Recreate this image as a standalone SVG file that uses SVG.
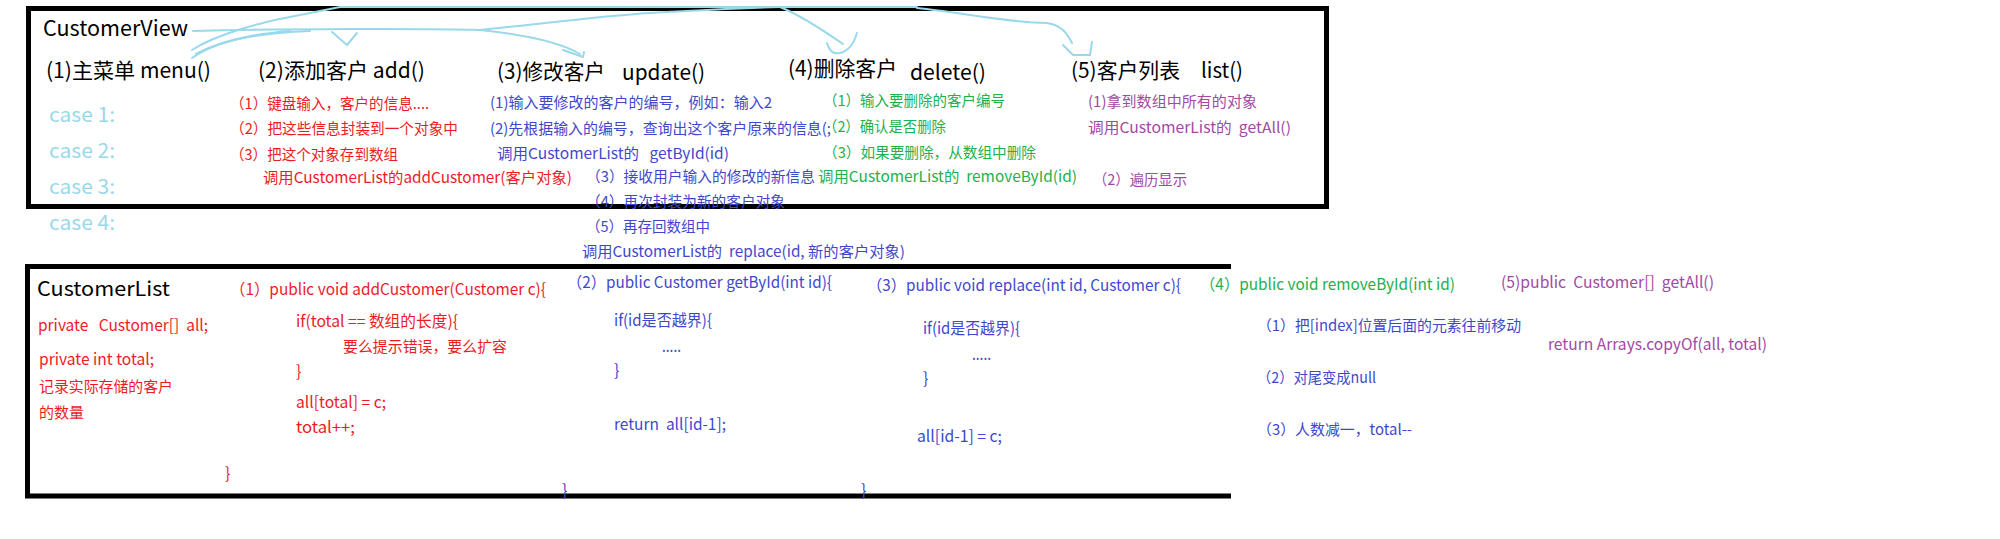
<svg xmlns="http://www.w3.org/2000/svg" width="2000" height="539" viewBox="0 0 2000 539">
<style>
text{font-family:"Noto Sans CJK SC","Noto Sans",sans-serif;white-space:pre;}
.h{font-size:21px;fill:#000;}
.case{font-size:20px;fill:#99d9ea;}
.s{font-size:15px;}
.m{font-size:16px;}
.r{fill:#ed1c24;}
.b{fill:#3f48cc;}
.g{fill:#22b14c;}
.p{fill:#a349a4;}
.frame{fill:none;stroke:#000;stroke-width:5;}
.arr{fill:none;stroke:#99d9ea;stroke-width:2;stroke-linecap:round;stroke-linejoin:round;}
</style>
<rect width="2000" height="539" fill="#fff"/>

<g id="customer-view">
  <rect class="frame" x="28.5" y="8.5" width="1298" height="198"/>
  <text class="h" x="43" y="36" textLength="145" lengthAdjust="spacingAndGlyphs">CustomerView</text>
  <g id="menu">
    <text class="h" x="46" y="78" textLength="165" lengthAdjust="spacingAndGlyphs">(1)主菜单 menu()</text>
    <text class="case" x="49" y="122" textLength="66" lengthAdjust="spacingAndGlyphs">case 1:</text>
    <text class="case" x="49" y="158" textLength="66" lengthAdjust="spacingAndGlyphs">case 2:</text>
    <text class="case" x="49" y="194" textLength="66" lengthAdjust="spacingAndGlyphs">case 3:</text>
    <text class="case" x="49" y="230" textLength="66" lengthAdjust="spacingAndGlyphs">case 4:</text>
  </g>
  <g id="add">
    <text class="h" x="258" y="78" textLength="167" lengthAdjust="spacingAndGlyphs">(2)添加客户 add()</text>
    <text class="s r" x="230" y="109" textLength="199" lengthAdjust="spacingAndGlyphs">（1）键盘输入，客户的信息....</text>
    <text class="s r" x="230" y="134" textLength="228" lengthAdjust="spacingAndGlyphs">（2）把这些信息封装到一个对象中</text>
    <text class="s r" x="230" y="160" textLength="168" lengthAdjust="spacingAndGlyphs">（3）把这个对象存到数组</text>
    <text class="s r" x="263" y="183" textLength="309" lengthAdjust="spacingAndGlyphs">调用CustomerList的addCustomer(客户对象)</text>
  </g>
  <g id="update">
    <text class="h" x="497" y="79" textLength="108" lengthAdjust="spacingAndGlyphs">(3)修改客户</text>
    <text class="h" x="622" y="80" textLength="83" lengthAdjust="spacingAndGlyphs">update()</text>
    <text class="s b" x="490" y="108" textLength="282" lengthAdjust="spacingAndGlyphs">(1)输入要修改的客户的编号，例如：输入2</text>
    <text class="s b" x="490" y="134" textLength="341" lengthAdjust="spacingAndGlyphs">(2)先根据输入的编号，查询出这个客户原来的信息(;</text>
    <text class="s b" x="497" y="159" textLength="232" lengthAdjust="spacingAndGlyphs">调用CustomerList的   getById(id)</text>
    <text class="s b" x="586" y="182" textLength="229" lengthAdjust="spacingAndGlyphs">（3）接收用户输入的修改的新信息</text>
    <text class="s b" x="586" y="207" textLength="199" lengthAdjust="spacingAndGlyphs">（4）再次封装为新的客户对象</text>
    <text class="s b" x="586" y="232" textLength="124" lengthAdjust="spacingAndGlyphs">（5）再存回数组中</text>
    <text class="s b" x="582" y="257" textLength="323" lengthAdjust="spacingAndGlyphs">调用CustomerList的  replace(id, 新的客户对象)</text>
  </g>
  <g id="delete">
    <text class="h" x="788" y="76" textLength="109" lengthAdjust="spacingAndGlyphs">(4)删除客户</text>
    <text class="h" x="910" y="80" textLength="76" lengthAdjust="spacingAndGlyphs">delete()</text>
    <text class="s g" x="823" y="106" textLength="182" lengthAdjust="spacingAndGlyphs">（1）输入要删除的客户编号</text>
    <text class="s g" x="823" y="132" textLength="123" lengthAdjust="spacingAndGlyphs">（2）确认是否删除</text>
    <text class="s g" x="823" y="158" textLength="213" lengthAdjust="spacingAndGlyphs">（3）如果要删除，从数组中删除</text>
    <text class="s g" x="818" y="182" textLength="259" lengthAdjust="spacingAndGlyphs">调用CustomerList的  removeById(id)</text>
  </g>
  <g id="list">
    <text class="h" x="1071" y="78" textLength="109" lengthAdjust="spacingAndGlyphs">(5)客户列表</text>
    <text class="h" x="1201" y="78" textLength="42" lengthAdjust="spacingAndGlyphs">list()</text>
    <text class="s p" x="1088" y="107" textLength="169" lengthAdjust="spacingAndGlyphs">(1)拿到数组中所有的对象</text>
    <text class="s p" x="1088" y="133" textLength="203" lengthAdjust="spacingAndGlyphs">调用CustomerList的  getAll()</text>
    <text class="s p" x="1093" y="185" textLength="94" lengthAdjust="spacingAndGlyphs">（2）遍历显示</text>
  </g>
</g>

<g id="customer-list">
  <path class="frame" d="M1231,266.5 H27.5 V496 H1231"/>
  <text x="37" y="296" font-size="20" fill="#000" textLength="133" lengthAdjust="spacingAndGlyphs">CustomerList</text>
  <g id="fields">
    <text class="m r" x="38" y="331" textLength="170" lengthAdjust="spacingAndGlyphs">private   Customer[]  all;</text>
    <text class="m r" x="39" y="365" textLength="115" lengthAdjust="spacingAndGlyphs">private int total;</text>
    <text class="s r" x="39" y="392" textLength="134" lengthAdjust="spacingAndGlyphs">记录实际存储的客户</text>
    <text class="s r" x="39" y="418" textLength="45" lengthAdjust="spacingAndGlyphs">的数量</text>
  </g>
  <g id="addCustomer">
    <text class="m r" x="230" y="295" textLength="316" lengthAdjust="spacingAndGlyphs">（1）public void addCustomer(Customer c){</text>
    <text class="m r" x="296" y="327" textLength="162" lengthAdjust="spacingAndGlyphs">if(total == 数组的长度){</text>
    <text class="s r" x="343" y="352" textLength="164" lengthAdjust="spacingAndGlyphs">要么提示错误，要么扩容</text>
    <text class="m r" x="296" y="377">}</text>
    <text class="m r" x="296" y="408" textLength="90" lengthAdjust="spacingAndGlyphs">all[total] = c;</text>
    <text class="m r" x="296" y="433" textLength="59" lengthAdjust="spacingAndGlyphs">total++;</text>
    <text class="m r" x="225" y="479">}</text>
  </g>
  <g id="getById">
    <text class="m b" x="567" y="288" textLength="265" lengthAdjust="spacingAndGlyphs">（2）public Customer getById(int id){</text>
    <text class="m b" x="614" y="326" textLength="98" lengthAdjust="spacingAndGlyphs">if(id是否越界){</text>
    <text class="m b" x="662" y="352" textLength="19" lengthAdjust="spacingAndGlyphs">.....</text>
    <text class="m b" x="614" y="376">}</text>
    <text class="m b" x="614" y="430" textLength="112" lengthAdjust="spacingAndGlyphs">return  all[id-1];</text>
    <text class="m b" x="562" y="496">}</text>
  </g>
  <g id="replace">
    <text class="m b" x="867" y="291" textLength="314" lengthAdjust="spacingAndGlyphs">（3）public void replace(int id, Customer c){</text>
    <text class="m b" x="923" y="334" textLength="97" lengthAdjust="spacingAndGlyphs">if(id是否越界){</text>
    <text class="m b" x="972" y="360" textLength="19" lengthAdjust="spacingAndGlyphs">.....</text>
    <text class="m b" x="923" y="384">}</text>
    <text class="m b" x="917" y="442" textLength="85" lengthAdjust="spacingAndGlyphs">all[id-1] = c;</text>
    <text class="m b" x="861" y="496">}</text>
  </g>
  <g id="removeById">
    <text class="m g" x="1200" y="290" textLength="255" lengthAdjust="spacingAndGlyphs">（4）public void removeById(int id)</text>
    <text class="s b" x="1257" y="331" textLength="264" lengthAdjust="spacingAndGlyphs">（1）把[index]位置后面的元素往前移动</text>
    <text class="s b" x="1257" y="383" textLength="119" lengthAdjust="spacingAndGlyphs">（2）对尾变成null</text>
    <text class="s b" x="1257" y="435" textLength="155" lengthAdjust="spacingAndGlyphs">（3）人数减一，total--</text>
  </g>
  <g id="getAll">
    <text class="m p" x="1501" y="288" textLength="213" lengthAdjust="spacingAndGlyphs">(5)public  Customer[]  getAll()</text>
    <text class="m p" x="1548" y="350" textLength="219" lengthAdjust="spacingAndGlyphs">return Arrays.copyOf(all, total)</text>
  </g>
</g>

<g id="connectors">
  <path class="arr" d="M193,31 C280,29 420,28 480,30"/>
  <path class="arr" d="M480,30 C520,34 560,42 580,54"/>
  <path class="arr" d="M563,50 L583,57 L584,52"/>
  <path class="arr" d="M332,32 L347,45 L357,33"/>
  <path class="arr" d="M480,30 C540,24 600,16 650,13 C700,10 740,8 780,7"/>
  <path class="arr" d="M340,7 L917,7"/>
  <path class="arr" d="M780,7 C800,15 830,35 843,44"/>
  <path class="arr" d="M827,43 Q830,55 840,53 Q852,50 857,33"/>
  <path class="arr" d="M917,8 C960,12 1000,22 1047,23 C1062,25 1068,35 1072,43"/>
  <path class="arr" d="M1063,45 L1073,55 L1090,55 L1092,42"/>
  <path class="arr" d="M192,58 C210,45 240,35 290,31"/>
  <path class="arr" d="M192,50 C215,35 260,22 300,15 C320,11 330,9 340,7"/>
  <path class="arr" d="M196,54 C225,38 265,33 310,31"/>
</g>
</svg>
